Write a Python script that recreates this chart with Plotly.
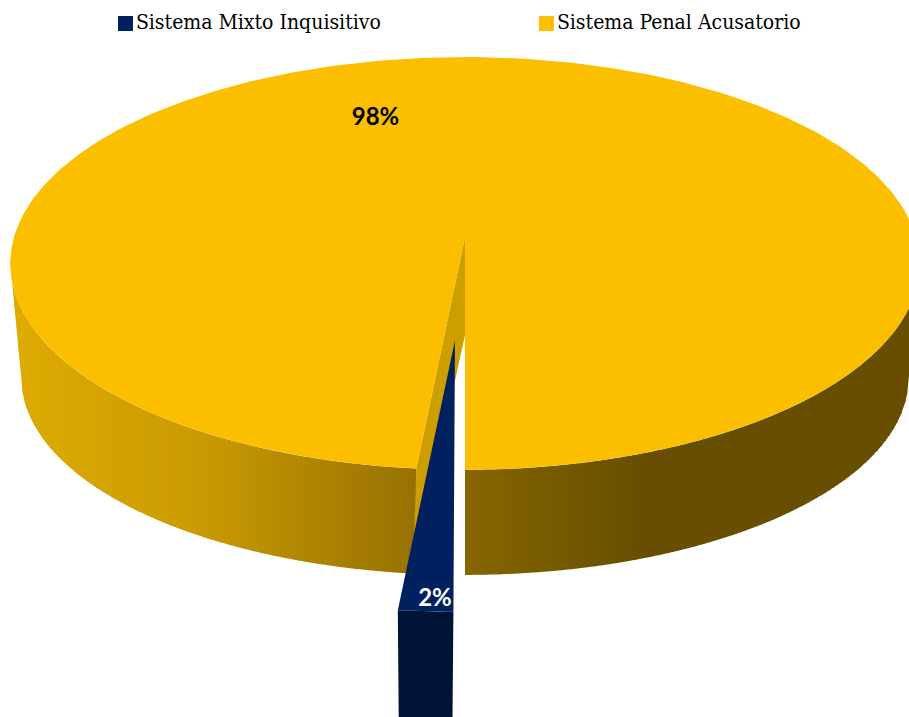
import numpy as np
import plotly.graph_objects as go

# ---- data
categories = ["Sistema Penal Acusatorio", "Sistema Mixto Inquisitivo"]
shares = [98.5, 1.5]
share_labels = ["98%", "2%"]

# ---- styles
TOP_YELLOW = "#FBBF00"
WALL_YELLOW = "#CC9E00"
LEG_YELLOW = "#FFC000"
TOP_BLUE = "#002060"
FRONT_BLUE = "#001237"
side_stop_x = [21, 200, 415, 465, 640, 920]
side_stop_rgb = [(221, 170, 0), (201, 154, 0), (150, 112, 0), (135, 102, 0), (103, 78, 0), (103, 78, 0)]

W, H = 909, 717
CX = 465.0
TOP_DISK = dict(y0=237.0, k=203.0, p=0.128, a=451.0)
BOT_DISK = dict(y0=335.0, k=187.6, p=0.218, a=433.0)
BLUE_DISK = dict(y0=237.0, k=207.0, p=0.128, a=480.0)
EXPLODE = 0.47
BAND = 4.0


def project(theta_deg, r, disk, dx=0.0, dy=0.0):
    t = np.radians(theta_deg)
    X = r * np.sin(t) + dx
    Y = r * np.cos(t) + dy
    d = 1 - disk["p"] * Y
    return CX + disk["a"] * X / d, disk["y0"] + disk["k"] * Y / d


def side_color(x):
    c = [np.interp(x, side_stop_x, [s[i] for s in side_stop_rgb]) for i in range(3)]
    return "rgb(%d,%d,%d)" % tuple(int(round(v)) for v in c)


def poly(xs, ys, color, line=0.0):
    return go.Scatter(x=list(xs) + [xs[0]], y=list(ys) + [ys[0]], mode="lines", fill="toself",
                      fillcolor=color, line=dict(color=color, width=line), hoverinfo="skip",
                      showlegend=False)


fig = go.Figure()
yellow_end = 360.0 * shares[0] / sum(shares)


def add_wall(theta, reverse=False):
    """Shade the outer wall in vertical bands between the upper and lower rim."""
    tx, ty = project(theta, 1, TOP_DISK)
    bx, by = project(theta, 1, BOT_DISK)
    outer = np.argmin(tx) if reverse else np.argmax(tx)
    outer_b = np.argmin(bx) if reverse else np.argmax(bx)
    if reverse:
        tkeep = np.arange(outer, len(tx))
        bkeep = np.arange(outer_b, len(bx))
        ux, uy = tx[tkeep], ty[tkeep]
        lx, ly = np.r_[tx[outer], bx[bkeep]], np.r_[ty[outer], by[bkeep]]
    else:
        tkeep = np.arange(0, outer + 1)
        bkeep = np.arange(0, outer_b + 1)
        ux, uy = tx[tkeep], ty[tkeep]
        lx, ly = np.r_[bx[bkeep], tx[outer]], np.r_[by[bkeep], ty[outer]]
    uo, lo = np.argsort(ux), np.argsort(lx)
    x0, x1 = ux.min(), ux.max()
    grid = np.arange(x0, x1 + BAND, BAND)
    for a, b in zip(grid[:-1], grid[1:]):
        b2 = min(b + 0.6, x1)
        xs = np.array([a, (a + b2) / 2, b2])
        yu = np.interp(xs, ux[uo], uy[uo])
        yl = np.interp(xs, lx[lo], ly[lo])
        fig.add_trace(poly(np.r_[xs, xs[::-1]], np.r_[yu, yl[::-1]], side_color((a + b) / 2)))


add_wall(np.linspace(0, 120, 600))
add_wall(np.linspace(240, yellow_end, 600), reverse=True)

# inner cut wall of the big slice
ax, ay = project(np.array([0.0]), 0, TOP_DISK)
bx0, by0 = project(np.array([0.0]), 0, BOT_DISK)
ex, ey = project(np.array([yellow_end]), 1, TOP_DISK)
fx, fy = project(np.array([yellow_end]), 1, BOT_DISK)
fig.add_trace(poly([ax[0], ex[0], fx[0], bx0[0]], [ay[0], ey[0], fy[0], by0[0]], WALL_YELLOW))

# top face of the big slice
arc = np.linspace(0, yellow_end, 361)
tx, ty = project(arc, 1, TOP_DISK)
fig.add_trace(poly(np.r_[ax, tx], np.r_[ay, ty], TOP_YELLOW))

# pulled-out small slice
mid = (yellow_end + 360.0) / 2
dx = 0.886 * EXPLODE * np.sin(np.radians(mid))
dy = EXPLODE * np.cos(np.radians(mid))
arc = np.linspace(yellow_end, 360.0, 12)
rx, ry = project(arc, 1, BLUE_DISK, dx, dy)
px, py = project(np.array([0.0]), 0, BLUE_DISK, dx, dy)
xmid = rx.mean()
fx2 = xmid + (rx - xmid) * 0.965
fig.add_trace(poly(np.r_[rx, fx2[::-1]], np.r_[ry, ry[::-1] + 115], FRONT_BLUE))
fig.add_trace(poly(np.r_[px, rx], np.r_[py, ry], TOP_BLUE))

# data labels
fig.add_trace(go.Scatter(x=[375.5], y=[119], mode="text", text=[share_labels[0]], hoverinfo="skip",
                         showlegend=False,
                         textfont=dict(family="Lato", size=24, color="#000000", weight="bold")))
fig.add_trace(go.Scatter(x=[435], y=[600], mode="text", text=[share_labels[1]], hoverinfo="skip",
                         showlegend=False,
                         textfont=dict(family="Lato", size=24, color="#FFFFFF", weight="bold")))

# legend keys
legfont = dict(family="DejaVu Serif Condensed", size=21, color="#000000")
for name, col, kx in [(categories[1], TOP_BLUE, 125.5), (categories[0], LEG_YELLOW, 546.5)]:
    fig.add_trace(go.Scatter(x=[kx], y=[23.5], mode="markers+text", name=name, text=[name],
                             textposition="middle right", textfont=legfont, hoverinfo="skip",
                             showlegend=False,
                             marker=dict(symbol="square", size=15, color=col)))

fig.update_layout(
    width=W, height=H, margin=dict(l=0, r=0, t=0, b=0),
    paper_bgcolor="#FFFFFF", plot_bgcolor="#FFFFFF",
    xaxis=dict(range=[0, W], visible=False, fixedrange=True),
    yaxis=dict(range=[H, 0], visible=False, fixedrange=True),
    showlegend=False,
)
fig.write_html("out.html", config=dict(displayModeBar=False),
               post_script="document.body.style.margin='0';")
